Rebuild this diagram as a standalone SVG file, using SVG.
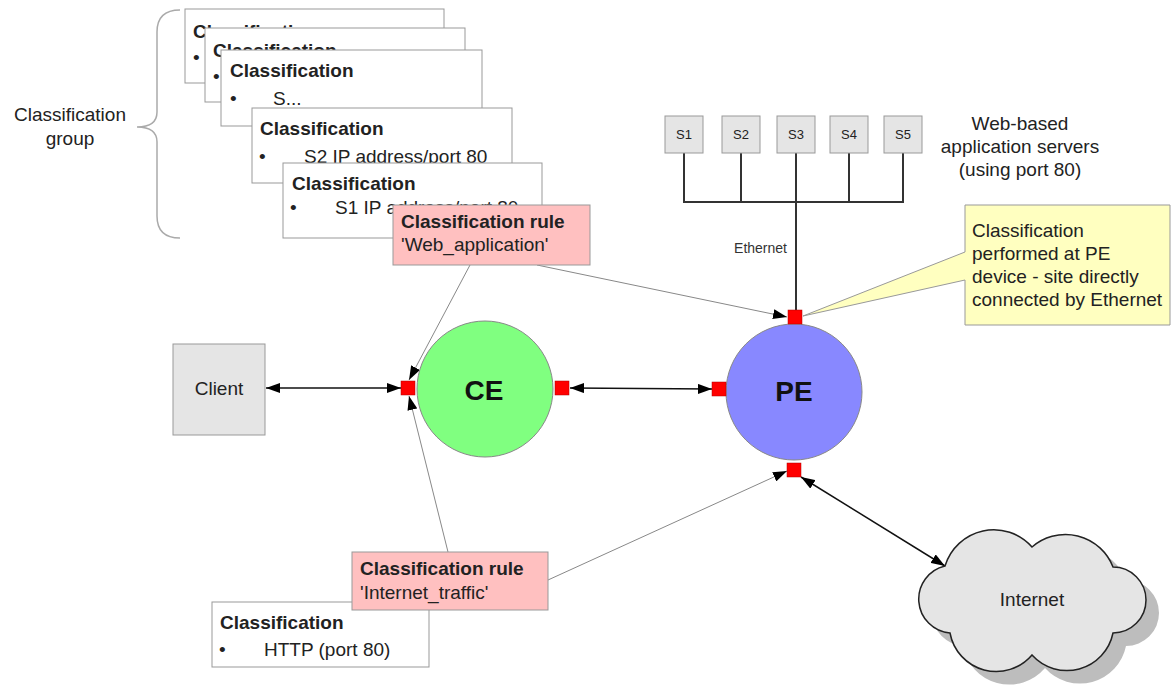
<svg xmlns="http://www.w3.org/2000/svg" width="1171" height="687" viewBox="0 0 1171 687">
<style>
text{font-family:"Liberation Sans",Arial,sans-serif;fill:#222}
.t{font-size:19px}
.b{font-size:19px;font-weight:bold}
.box{fill:#fff;stroke:#999;stroke-width:1}
.rule{fill:#ffc0c0;stroke:#999;stroke-width:1}
.gray{fill:#e5e5e5;stroke:#999;stroke-width:1}
.port{fill:#ff0000;stroke:#b00000;stroke-width:0.5}
.conn{stroke:#111;stroke-width:1.5;fill:none}
.thin{stroke:#888;stroke-width:1;fill:none}
.bus{stroke:#333;stroke-width:2;fill:none}
.c{text-anchor:middle}
</style>
<defs>
<marker id="ah" viewBox="0 0 14 10" refX="14" refY="5" markerWidth="14" markerHeight="10" markerUnits="userSpaceOnUse" orient="auto-start-reverse">
<path d="M0,0 L14,5 L0,10 Z" fill="#000"/>
</marker>
</defs>
<rect width="1171" height="687" fill="#fff"/>

<g id="classification-group">
<path d="M180,10 Q157,10 157,32 V112 Q157,127 137,127 Q157,127 157,142 V216 Q157,238 180,238" fill="none" stroke="#aaa" stroke-width="1.5"/>
<text class="t c" x="70" y="121">Classification</text>
<text class="t c" x="70" y="145">group</text>
</g>

<g id="class1">
<rect class="box" x="185" y="9" width="259" height="74"/>
<text class="b" x="193" y="38">Classification</text>
<text class="t" x="193" y="64">•</text>
</g>
<g id="class2">
<rect class="box" x="205" y="28" width="260" height="74"/>
<text class="b" x="213" y="57">Classification</text>
<text class="t" x="213" y="83">•</text>
</g>
<g id="class3">
<rect class="box" x="221" y="50" width="261" height="76"/>
<text class="b" x="230" y="77">Classification</text>
<text class="t" x="230" y="105">•</text>
<text class="t" x="273" y="105">S...</text>
</g>
<g id="class4">
<rect class="box" x="252" y="108" width="260" height="75"/>
<text class="b" x="260" y="135">Classification</text>
<text class="t" x="259" y="163">•</text>
<text class="t" x="304" y="163">S2 IP address/port 80</text>
</g>
<g id="class5">
<rect class="box" x="283" y="163" width="259" height="75"/>
<text class="b" x="292" y="190">Classification</text>
<text class="t" x="290" y="214">•</text>
<text class="t" x="335" y="214">S1 IP address/port 80</text>
</g>

<g id="connectors">
<line class="thin" x1="470" y1="265" x2="409" y2="380" marker-end="url(#ah)"/>
<line class="thin" x1="537" y1="265" x2="787" y2="317" marker-end="url(#ah)"/>
<line class="thin" x1="448" y1="552" x2="409" y2="396" marker-end="url(#ah)"/>
<line class="thin" x1="548" y1="580" x2="787" y2="471" marker-end="url(#ah)"/>
<line class="conn" x1="266" y1="388" x2="401" y2="388" marker-start="url(#ah)" marker-end="url(#ah)"/>
<line class="conn" x1="570" y1="388" x2="712" y2="389" marker-start="url(#ah)" marker-end="url(#ah)"/>
<line class="conn" x1="801" y1="477" x2="945" y2="566" marker-start="url(#ah)" marker-end="url(#ah)"/>
<path class="bus" d="M684,153 V202 H903 V153 M741,153 V202 M849,153 V202"/>
<line class="bus" x1="796" y1="153" x2="796" y2="310"/>
<text x="787" y="253" text-anchor="end" style="font-size:14px;fill:#333">Ethernet</text>
</g>

<g id="rule-web">
<rect class="rule" x="393" y="205" width="197" height="60"/>
<text class="b" x="401" y="228">Classification rule</text>
<text class="t" x="401" y="251">'Web_application'</text>
</g>

<g id="class-http">
<rect class="box" x="212" y="602" width="217" height="65"/>
<text class="b" x="220" y="629">Classification</text>
<text class="t" x="219" y="656">•</text>
<text class="t" x="264" y="656">HTTP (port 80)</text>
</g>

<g id="rule-internet">
<rect class="rule" x="352" y="552" width="196" height="58"/>
<text class="b" x="360" y="575">Classification rule</text>
<text class="t" x="360" y="599">'Internet_traffic'</text>
</g>

<g id="client">
<rect class="gray" x="173" y="344" width="92" height="91"/>
<text class="t c" x="219" y="395">Client</text>
</g>

<g id="ce">
<circle cx="485" cy="389" r="68" fill="#80ff80" stroke="#888" stroke-width="1"/>
<text class="c" x="484" y="400" style="font-size:28px;font-weight:bold;fill:#111">CE</text>
<rect class="port" x="401" y="381" width="14" height="14"/>
<rect class="port" x="555" y="381" width="14" height="14"/>
</g>

<g id="pe">
<circle cx="794" cy="392" r="68" fill="#8888ff" stroke="#888" stroke-width="1"/>
<text class="c" x="794" y="401" style="font-size:28px;font-weight:bold;fill:#111">PE</text>
<rect class="port" x="712" y="382" width="14" height="14"/>
<rect class="port" x="788" y="310" width="14" height="14"/>
<rect class="port" x="787" y="463" width="14" height="14"/>
</g>

<g id="servers">
<g id="s1"><rect class="gray" x="665" y="116" width="38" height="37"/><text class="c" x="684" y="139" style="font-size:13px">S1</text></g>
<g id="s2"><rect class="gray" x="722" y="116" width="38" height="37"/><text class="c" x="741" y="139" style="font-size:13px">S2</text></g>
<g id="s3"><rect class="gray" x="777" y="116" width="38" height="37"/><text class="c" x="796" y="139" style="font-size:13px">S3</text></g>
<g id="s4"><rect class="gray" x="830" y="116" width="38" height="37"/><text class="c" x="849" y="139" style="font-size:13px">S4</text></g>
<g id="s5"><rect class="gray" x="884" y="116" width="38" height="37"/><text class="c" x="903" y="139" style="font-size:13px">S5</text></g>
<text class="t c" x="1020" y="130">Web-based</text>
<text class="t c" x="1020" y="153">application servers</text>
<text class="t c" x="1020" y="176">(using port 80)</text>
</g>

<g id="callout">
<path d="M965,205 H1170 V325 H965 V280 L803,316 L965,252 Z" fill="#ffffc0" stroke="#999" stroke-width="1"/>
<text class="t" x="972" y="237">Classification</text>
<text class="t" x="972" y="260">performed at PE</text>
<text class="t" x="972" y="283">device - site directly</text>
<text class="t" x="972" y="306">connected by Ethernet</text>
</g>

<g id="internet">
<path d="M945,566 A51,51 0 0 1 1032,547 A51,51 0 0 1 1113,567 A33,33 0 0 1 1113,633 A47,47 0 0 1 1032,655 A47,47 0 0 1 950,633 A34,34 0 0 1 945,566 Z" transform="translate(13,13)" fill="#bdbdbd"/>
<path d="M945,566 A51,51 0 0 1 1032,547 A51,51 0 0 1 1113,567 A33,33 0 0 1 1113,633 A47,47 0 0 1 1032,655 A47,47 0 0 1 950,633 A34,34 0 0 1 945,566 Z" fill="#e5e5e5" stroke="#222" stroke-width="1.5"/>
<text class="t c" x="1032" y="606">Internet</text>
</g>
</svg>
